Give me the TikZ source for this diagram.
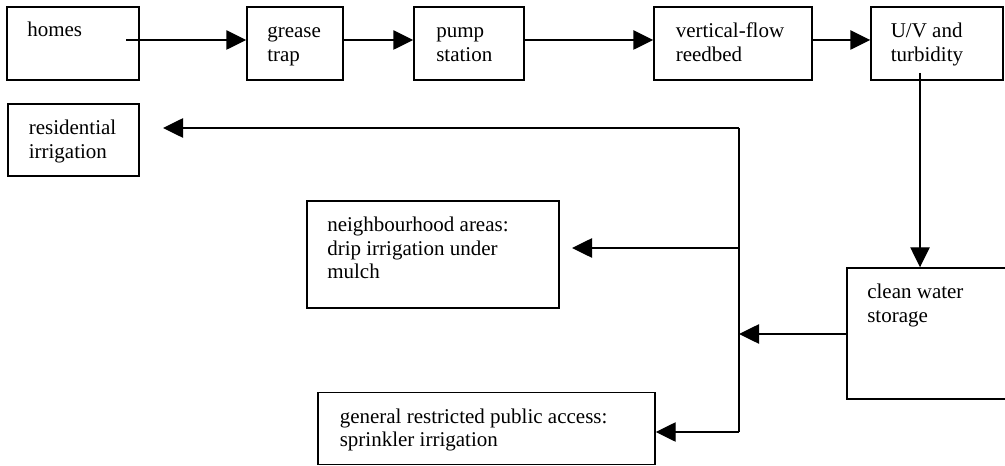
\documentclass[tikz,border=0pt]{standalone}
\usepackage{fontspec}
\setmainfont{Liberation Serif}
\usetikzlibrary{fit,arrows.meta}
\newcommand{\mlines}[1]{\begin{tabular}[t]{@{}l@{}}#1\end{tabular}}
\tikzset{
  box/.style={draw, line width=1.1pt, inner sep=0pt, rectangle},
  txt/.style={anchor=base west, inner sep=0pt,
    font=\fontsize{15.75pt}{17.6pt}\selectfont},
  flow/.style={line width=1.1pt, -{Triangle[length=15pt,width=14.5pt]}},
  wire/.style={line width=1.1pt}
}
\begin{document}
\begin{tikzpicture}[x=0.75pt,y=-0.75pt]
\clip (0,0) rectangle (1005,466);
\useasboundingbox (0,0) rectangle (1005,466);
% boxes
\node[box, fit={(7,7) (139,80)}] (homes) {};
\node[box, fit={(247,7) (343,80)}] (grease) {};
\node[box, fit={(414,7) (524,80)}] (pump) {};
\node[box, fit={(654,7) (812,80)}] (vflow) {};
\node[box, fit={(871,7) (1003,80)}] (uv) {};
\node[box, fit={(8,104) (139,176)}] (resid) {};
\node[box, fit={(307,201) (559,308)}] (neigh) {};
\node[box, fit={(318,392.5) (655,464.5)}] (general) {};
\node[box, fit={(847,268) (1030,399)}] (clean) {};
% texts
\node[txt] (thomes) at (27,37) {homes};
\node[txt] (tgrease) at (267,37.7) {\mlines{grease\\trap}};
\node[txt] (tpump) at (436,37.7) {\mlines{pump\\station}};
\node[txt] (tvflow) at (675.5,37.7) {\mlines{vertical-flow\\reedbed}};
\node[txt] (tuv) at (890.5,37.7) {\mlines{U/V and\\turbidity}};
\node[txt] (tresid) at (28.5,135) {\mlines{residential\\irrigation}};
\node[txt] (tneigh) at (327,231.7) {\mlines{neighbourhood areas:\\drip irrigation under\\mulch}};
\node[txt] (tgeneral) at (339.5,423) {\mlines{general restricted public access:\\sprinkler irrigation}};
\node[txt] (tclean) at (867,299) {\mlines{clean water\\storage}};
% junction coordinates
\coordinate (hstart) at (126,40);
\coordinate (uvstart) at (920,73);
\coordinate (jtop) at (739,128);
\coordinate (jmid) at (739,248);
\coordinate (jst) at (739,334);
\coordinate (jbot) at (739,432);
\coordinate (residtip) at (163,128);
\coordinate (neightip) at (572,248);
% top row
\draw[flow] (hstart) -- (grease.west |- hstart);
\draw[flow] (grease.east |- hstart) -- (pump.west |- hstart);
\draw[flow] (pump.east |- hstart) -- (vflow.west |- hstart);
\draw[flow] (vflow.east |- hstart) -- (uv.west |- hstart);
\draw[flow] (uvstart) -- (uvstart |- clean.north);
% distribution
\draw[flow] (clean.west |- jst) -- (jst);
\draw[wire] (jtop) -- (jbot);
\draw[flow] (jtop) -- (residtip);
\draw[flow] (jmid) -- (neightip);
\draw[flow] (jbot) -- (general.east |- jbot);
\end{tikzpicture}
\end{document}
